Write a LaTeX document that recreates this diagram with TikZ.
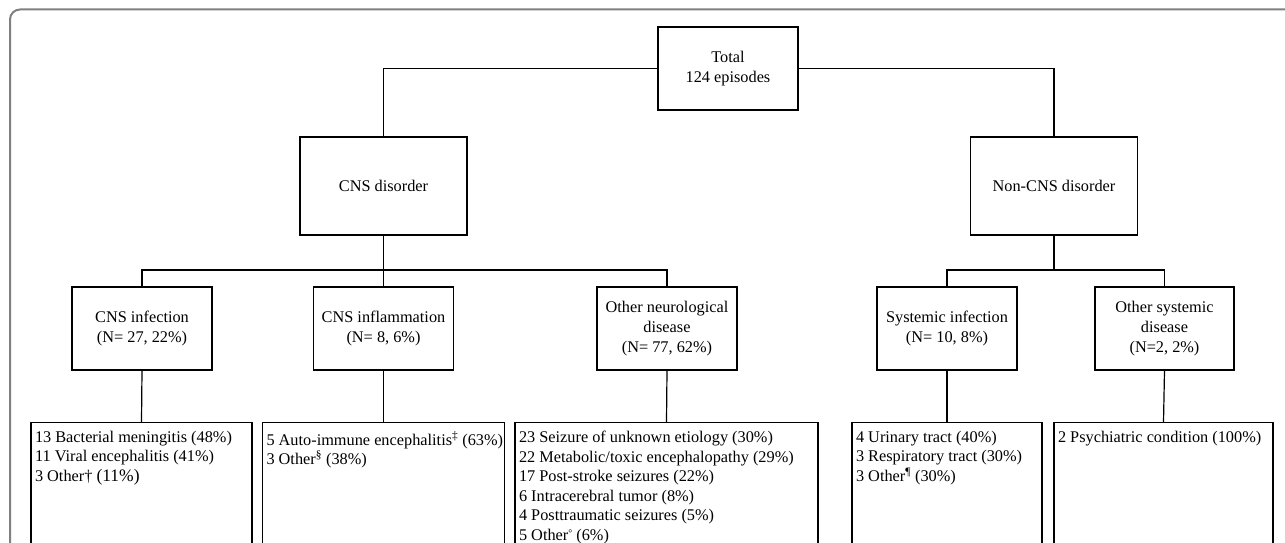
\documentclass[tikz,border=0pt]{standalone}
\usepackage{fontspec}
\setmainfont{Liberation Serif}
\newcommand\myfs{\fontsize{16.3}{20}\selectfont}
\newcommand\leaffs{\fontsize{16.3}{19.5}\selectfont}
\newcommand\leaftext[2]{\parbox[t][150pt][t]{#1}{#2}}
\newcommand\smalldeg{\raisebox{3.5pt}{\fontsize{10}{10}\selectfont °}}
\begin{document}
\begin{tikzpicture}[x=1pt,y=-1pt,
  ln/.style={line width=1.2pt},
  box/.style={draw, line width=1.2pt, align=center, inner sep=0pt, font=\myfs},
  midbox/.style={box, minimum width=140pt, minimum height=83pt},
  topbox/.style={box, minimum width=167pt, minimum height=98pt},
  leafbox/.style={draw, line width=1.2pt, anchor=north, inner xsep=4pt, inner ysep=8.5pt, font=\leaffs},
  frame/.style={draw=black!50, line width=2pt, rounded corners=10pt}]
\useasboundingbox (0,0) rectangle (1285,543);
\clip (0,0) rectangle (1285,543);
\fill[white] (0,0) rectangle (1285,543);
\draw[frame] (10,620) -- (10,9.5) -- (1320,9.5);

% level 1
\node[box, minimum width=140pt, minimum height=83pt] (total) at (728,68.5) {Total\\124 episodes};
% level 2
\node[topbox] (cns) at (383.5,186) {CNS disorder};
\node[topbox] (noncns) at (1054,186) {Non-CNS disorder};
% level 3
\node[midbox] (inf) at (142,328.5) {CNS infection\\(N= 27, 22\%)};
\node[midbox] (infl) at (383.5,328.5) {CNS inflammation\\(N= 8, 6\%)};
\node[midbox] (oth) at (667,328.5) {Other neurological\\disease\\(N= 77, 62\%)};
\node[midbox] (sys) at (947,328.5) {Systemic infection\\(N= 10, 8\%)};
\node[midbox, minimum width=139pt] (osys) at (1164.5,328.5) {Other systemic\\disease\\(N=2, 2\%)};
% level 4
\node[leafbox] (la) at (141.5,422) {\leaftext{213pt}{%
\mbox{13 Bacterial meningitis (48\%)}\\
\mbox{11 Viral encephalitis (41\%)}\\
\mbox{3 Other† {\fontsize{17.5}{19.5}\selectfont(11\%)}}}};
\node[leafbox] (lb) at (383.5,422) {\leaftext{234pt}{%
\mbox{5 Auto-immune encephalitis\textsuperscript{‡} (63\%)}\\
\mbox{3 Other\textsuperscript{§} (38\%)}}};
\node[leafbox] (lc) at (666.5,422) {\leaftext{295pt}{%
\mbox{23 Seizure of unknown etiology (30\%)}\\
\mbox{22 Metabolic/toxic encephalopathy (29\%)}\\
\mbox{17 Post-stroke seizures (22\%)}\\
\mbox{6 Intracerebral tumor (8\%)}\\
\mbox{4 Posttraumatic seizures (5\%)}\\
\mbox{5 Other\smalldeg{} (6\%)}}};
\node[leafbox] (ld) at (947,422) {\leaftext{182pt}{%
\mbox{4 Urinary tract (40\%)}\\
\mbox{3 Respiratory tract (30\%)}\\
\mbox{3 Other\textsuperscript{¶} (30\%)}}};
\node[leafbox] (le) at (1163.5,422) {\leaftext{211pt}{%
\mbox{2 Psychiatric condition (100\%)}}};

% connectors
\draw[ln] (total.west) -- (total.west -| cns.north) -- (cns.north);
\draw[ln] (total.east) -- (total.east -| noncns.north) -- (noncns.north);
\coordinate (cj) at (383.5,270);
\coordinate (nj) at (1054,270);
\draw[ln] (cns.south) -- (cj);
\draw[ln] (inf.north) -- (inf.north |- cj) -- (oth.north |- cj) -- (oth.north);
\draw[ln] (cj) -- (infl.north);
\draw[ln] (noncns.south) -- (nj);
\draw[ln] (sys.north) -- (sys.north |- nj) -- (osys.north |- nj) -- (osys.north);
\draw[ln] (inf.south) -- (la.north);
\draw[ln] (infl.south) -- (lb.north);
\draw[ln] (oth.south) -- (lc.north);
\draw[ln] (sys.south) -- (ld.north);
\draw[ln] (osys.south) -- (le.north);
\end{tikzpicture}
\end{document}
